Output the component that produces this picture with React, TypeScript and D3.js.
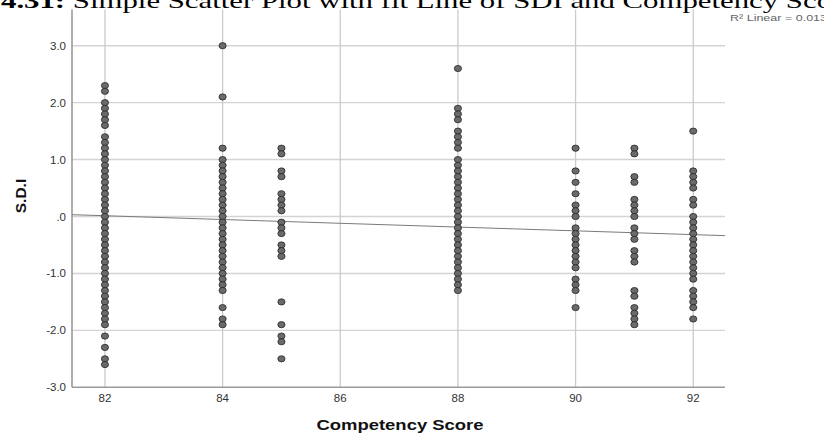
import React, { useEffect, useRef } from "react";
import * as d3 from "d3";

// competency score columns and the S.D.I values
const comp82 = [2.3, 2.2, 2.0, 1.9, 1.8, 1.7, 1.6, 1.4, 1.3, 1.2, 1.1, 1.0, 0.9, 0.8, 0.7, 0.6, 0.5, 0.4, 0.3, 0.2, 0.1, 0.0, -0.1, -0.2, -0.3, -0.4, -0.5, -0.6, -0.7, -0.8, -0.9, -1.0, -1.1, -1.2, -1.3, -1.4, -1.5, -1.6, -1.7, -1.8, -1.9, -2.1, -2.3, -2.5, -2.6];
const comp84 = [3.0, 2.1, 1.2, 1.0, 0.9, 0.8, 0.7, 0.6, 0.5, 0.4, 0.3, 0.2, 0.1, 0.0, -0.1, -0.2, -0.3, -0.4, -0.5, -0.6, -0.7, -0.8, -0.9, -1.0, -1.1, -1.2, -1.3, -1.6, -1.8, -1.9];
const comp85 = [1.2, 1.1, 0.8, 0.7, 0.4, 0.3, 0.2, 0.1, -0.1, -0.2, -0.3, -0.5, -0.6, -0.7, -1.5, -1.9, -2.1, -2.2, -2.5];
const comp88 = [2.6, 1.9, 1.8, 1.7, 1.5, 1.4, 1.3, 1.2, 1.0, 0.9, 0.8, 0.7, 0.6, 0.5, 0.4, 0.3, 0.2, 0.1, 0.0, -0.1, -0.2, -0.3, -0.4, -0.5, -0.6, -0.7, -0.8, -0.9, -1.0, -1.1, -1.2, -1.3];
const comp90 = [1.2, 0.8, 0.6, 0.4, 0.2, 0.1, 0.0, -0.2, -0.3, -0.4, -0.5, -0.6, -0.7, -0.8, -0.9, -1.1, -1.2, -1.3, -1.6];
const comp91 = [1.2, 1.1, 0.7, 0.6, 0.3, 0.2, 0.1, 0.0, -0.2, -0.3, -0.4, -0.6, -0.7, -0.8, -1.3, -1.4, -1.6, -1.7, -1.8, -1.9];
const comp92 = [1.5, 0.8, 0.7, 0.6, 0.5, 0.3, 0.2, 0.0, -0.1, -0.2, -0.3, -0.4, -0.5, -0.6, -0.7, -0.8, -0.9, -1.0, -1.1, -1.3, -1.4, -1.5, -1.6, -1.8];

const columns: [number, number[]][] = [
  [82, comp82], [84, comp84], [85, comp85], [88, comp88], [90, comp90], [91, comp91], [92, comp92],
];

const xTicks = [82, 84, 86, 88, 90, 92];
const yTicks = [-3, -2, -1, 0, 1, 2, 3];
const yTickLabels = ["-3.0", "-2.0", "-1.0", ".0", "1.0", "2.0", "3.0"];

// linear fit line
const fitIntercept = 2.736;
const fitSlope = -0.0332;
const rSquaredLabel = "R² Linear = 0.013";

const W = 824;
const H = 433;
const left = 72, right = 725, top = 9.5, bottom = 387.3;

const App = () => {
  const ref = useRef<SVGGElement>(null);

  useEffect(() => {
    const x = d3.scaleLinear().domain([81.44, 92.54]).range([left, right]);
    const y = d3.scaleLinear().domain([-3, 3.636]).range([bottom, top]);

    const g = d3.select(ref.current);
    g.selectAll("*").remove();

    // grid
    g.append("g").selectAll("line").data(yTicks.filter(d => d > -3)).join("line")
      .attr("x1", left).attr("x2", right)
      .attr("y1", d => y(d)).attr("y2", d => y(d))
      .attr("stroke", "#d4d4d4").attr("stroke-width", 1.4);
    g.append("g").selectAll("line").data(xTicks).join("line")
      .attr("x1", d => x(d)).attr("x2", d => x(d))
      .attr("y1", top).attr("y2", bottom)
      .attr("stroke", "#cbcbcb").attr("stroke-width", 1.3);

    // axes lines
    g.append("line").attr("x1", left).attr("x2", left).attr("y1", top).attr("y2", bottom)
      .attr("stroke", "#9a9a9a").attr("stroke-width", 1.6);
    g.append("line").attr("x1", left).attr("x2", right).attr("y1", bottom).attr("y2", bottom)
      .attr("stroke", "#9a9a9a").attr("stroke-width", 1.6);

    // tick labels
    g.append("g").selectAll("text").data(yTicks).join("text")
      .attr("x", 66).attr("y", d => y(d) + 4)
      .attr("text-anchor", "end")
      .attr("font-family", "Liberation Sans, Arial, sans-serif")
      .attr("font-size", 11.5).attr("fill", "#333")
      .text((d, i) => yTickLabels[i]);
    g.append("g").selectAll("text").data(xTicks).join("text")
      .attr("x", d => x(d)).attr("y", 402)
      .attr("text-anchor", "middle")
      .attr("font-family", "Liberation Sans, Arial, sans-serif")
      .attr("font-size", 11.5).attr("fill", "#333")
      .text(d => d);

    // fit line
    const fitLine = d3.line<number>()
      .x(d => x(d))
      .y(d => y(fitIntercept + fitSlope * d));
    g.append("path")
      .datum(x.domain())
      .attr("fill", "none")
      .attr("stroke", "#7a7a7a")
      .attr("stroke-width", 1)
      .attr("d", fitLine);

    // points
    const points = columns.flatMap(([c, vals]) => vals.map(v => ({ c, v })));
    g.append("g").selectAll("ellipse").data(points).join("ellipse")
      .attr("cx", d => x(d.c)).attr("cy", d => y(d.v))
      .attr("rx", 3.6).attr("ry", 3.1)
      .attr("fill", "#6a6a6a")
      .attr("stroke", "#262626")
      .attr("stroke-width", 0.8);
  }, []);

  return (
    <svg width={W} height={H} style={{ position: "absolute", left: 0, top: 0, background: "#fff" }}>
      <text x={1 / 1.4} y={7.5} fontFamily="Liberation Serif, Times New Roman, serif" fontSize={22}
        transform="scale(1.4,1)" fill="#000">
        <tspan fontWeight="bold">4.31:</tspan>
        <tspan> Simple Scatter Plot with fit Line of SDI and Competency Score</tspan>
      </text>
      <text x={730} y={21} fontFamily="Liberation Sans, Arial, sans-serif" fontSize={9.5}
        fill="#666" textLength={97} lengthAdjust="spacingAndGlyphs">{rSquaredLabel}</text>
      <g ref={ref} />
      <text transform="translate(26,196) rotate(-90)" textAnchor="middle"
        fontFamily="Liberation Sans, Arial, sans-serif" fontSize={15.5} fontWeight="bold" fill="#111">S.D.I</text>
      <text x={400} y={430} textAnchor="middle" fontFamily="Liberation Sans, Arial, sans-serif"
        fontSize={14} fontWeight="bold" fill="#111" textLength={167} lengthAdjust="spacingAndGlyphs">Competency Score</text>
    </svg>
  );
};

export default App;
